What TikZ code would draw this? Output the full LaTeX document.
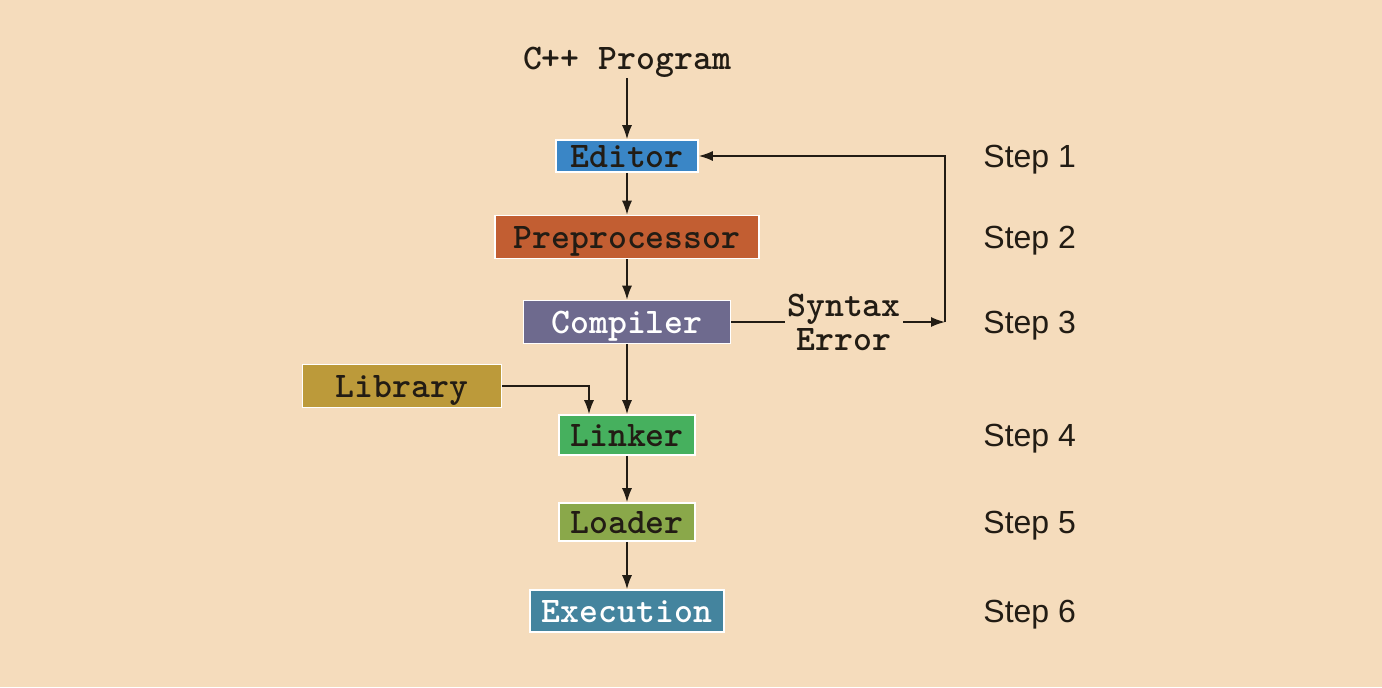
\documentclass[tikz,border=0pt]{standalone}
\usepackage{fontspec}
\setmainfont{Liberation Sans}
\usetikzlibrary{arrows.meta,positioning}
\definecolor{bgtan}{HTML}{F5DCBC}
\definecolor{inkdark}{HTML}{221C14}
\definecolor{editorblue}{HTML}{3A86C6}
\definecolor{preorange}{HTML}{C25E32}
\definecolor{compviolet}{HTML}{6E6A8E}
\definecolor{libochre}{HTML}{BC9A3A}
\definecolor{linkgreen}{HTML}{46B05E}
\definecolor{loadolive}{HTML}{8AA84A}
\definecolor{execteal}{HTML}{44849E}
\newcommand{\codefont}{\ttfamily\bfseries\fontsize{18}{17}\selectfont}
\tikzset{
	stage/.style={draw=white, line width=0.8pt, inner sep=0pt, font=\codefont, text=inkdark,
		text height=12.5pt, text depth=1.5pt},
	flow/.style={draw=inkdark, line width=0.75pt, -{Latex[length=7pt,width=5pt]}},
	steplabel/.style={anchor=west, inner xsep=0pt, font=\fontsize{16}{18}\selectfont, text=inkdark,
		text height=11pt, text depth=0pt}
}

\begin{document}
\begin{tikzpicture}[x=0.5pt,y=-0.5pt]

	% background
	\fill[bgtan] (0,0) rectangle (1382,687);
	\useasboundingbox (0,0) rectangle (1382,687);

	% stages
	\node[font=\codefont, text=inkdark] (prog) at (627,62) {C++ Program};
	\node[stage, fill=editorblue, minimum width=71pt, minimum height=16pt] (edit) at (627,156) {Editor};
	\node[stage, fill=preorange, minimum width=132pt, minimum height=21.5pt] (pre) at (627,237) {Preprocessor};
	\node[stage, fill=compviolet, text=white, minimum width=103.5pt, minimum height=21.5pt] (comp) at (627,322) {Compiler};
	\node[stage, fill=libochre, minimum width=99.5pt, minimum height=21.5pt] (lib) at (402,386) {Library};
	\node[stage, fill=linkgreen, minimum width=68pt, minimum height=20pt] (link) at (627,435) {Linker};
	\node[stage, fill=loadolive, minimum width=68pt, minimum height=19pt] (load) at (627,522) {Loader};
	\node[stage, fill=execteal, text=white, minimum width=97pt, minimum height=21pt] (exec) at (627,611) {Execution};

	% syntax error loop
	\node[font=\codefont, text=inkdark, align=center, inner xsep=1pt] (syn) at (844,322) {Syntax\\Error};
	\coordinate (back) at (945,322);

	% step labels
	\node[steplabel] (s1) at (983,156) {Step 1};
	\node[steplabel] (s2) at (983,237) {Step 2};
	\node[steplabel] (s3) at (983,322) {Step 3};
	\node[steplabel] (s4) at (983,435) {Step 4};
	\node[steplabel] (s5) at (983,522) {Step 5};
	\node[steplabel] (s6) at (983,611) {Step 6};

	% arrows
	\draw[flow] (prog.south) ++(0,-6) coordinate (progfoot) -- (edit.north);
	\draw[flow] (edit) -- (pre);
	\draw[flow] (pre) -- (comp);
	\draw[flow] (comp) -- (link);
	\draw[flow] (link) -- (load);
	\draw[flow] (load) -- (exec);
	\draw[draw=inkdark, line width=0.75pt] (comp.east) -- (syn.west);
	\draw[flow] (syn.east |- comp.east) -- (back);
	\draw[flow] (back) |- (edit.east);
	\draw[flow] (lib.east) -| ([xshift=-19pt]link.north);

\end{tikzpicture}
\end{document}
